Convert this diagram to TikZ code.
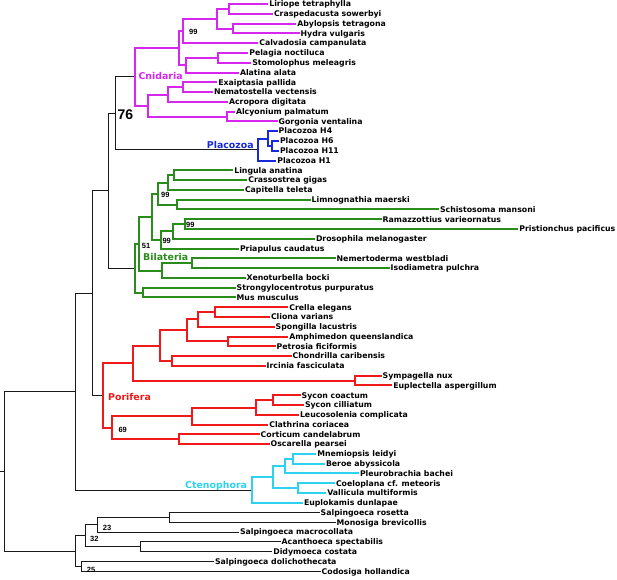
\documentclass[tikz,border=0pt]{standalone}
\usepackage{fontspec}
\setmainfont{DejaVu Sans}
\newfontfamily\helv{Liberation Sans}
\usepackage{tikz}

\definecolor{cnicol}{RGB}{214,38,240}
\definecolor{placol}{RGB}{22,42,220}
\definecolor{bilcol}{RGB}{42,140,26}
\definecolor{porcol}{RGB}{240,26,26}
\definecolor{ctecol}{RGB}{44,210,240}
\definecolor{blkcol}{RGB}{25,25,25}

\tikzset{
  leaf/.style={anchor=west, inner xsep=0.8pt, inner ysep=0pt, text height=5.7pt, text depth=0pt,
    font=\bfseries\fontsize{7.8}{9}\selectfont},
  clade/.style={anchor=west, inner sep=0pt, text height=6.9pt, text depth=0pt,
    font=\bfseries\fontsize{9.4}{11}\selectfont},
  boot/.style={anchor=west, inner sep=0pt, font=\helv\bfseries\fontsize{7.5}{9}\selectfont},
  blkbr/.style={line width=1pt, draw=blkcol},
  cnibr/.style={line width=2pt, draw=cnicol},
  plabr/.style={line width=2pt, draw=placol},
  bilbr/.style={line width=2pt, draw=bilcol},
  porbr/.style={line width=2pt, draw=porcol},
  ctebr/.style={line width=2pt, draw=ctecol}
}

\begin{document}
\begin{tikzpicture}[x=1pt,y=-1pt]
    \useasboundingbox (0,0) rectangle (617,579);

    % tips
    \node[leaf] (l0) at (268.3,4.0) {Liriope tetraphylla};
    \node[leaf] (l1) at (273.0,13.8) {Craspedacusta sowerbyi};
    \node[leaf] (l2) at (296.3,23.6) {Abylopsis tetragona};
    \node[leaf] (l3) at (299.7,33.3) {Hydra vulgaris};
    \node[leaf] (l4) at (258.3,43.1) {Calvadosia campanulata};
    \node[leaf] (l5) at (248.3,52.9) {Pelagia noctiluca};
    \node[leaf] (l6) at (251.3,62.7) {Stomolophus meleagris};
    \node[leaf] (l7) at (239.0,72.5) {Alatina alata};
    \node[leaf] (l8) at (217.3,82.2) {Exaiptasia pallida};
    \node[leaf] (l9) at (213.0,92.0) {Nematostella vectensis};
    \node[leaf] (l10) at (228.0,101.8) {Acropora digitata};
    \node[leaf] (l11) at (235.0,111.6) {Alcyonium palmatum};
    \node[leaf] (l12) at (277.7,121.4) {Gorgonia ventalina};
    \node[leaf] (l13) at (277.7,131.1) {Placozoa H4};
    \node[leaf] (l14) at (279.0,140.9) {Placozoa H6};
    \node[leaf] (l15) at (279.0,150.7) {Placozoa H11};
    \node[leaf] (l16) at (276.3,160.5) {Placozoa H1};
    \node[leaf] (l17) at (233.3,170.3) {Lingula anatina};
    \node[leaf] (l18) at (247.3,180.0) {Crassostrea gigas};
    \node[leaf] (l19) at (244.0,189.8) {Capitella teleta};
    \node[leaf] (l20) at (310.7,199.6) {Limnognathia maerski};
    \node[leaf] (l21) at (439.0,209.4) {Schistosoma mansoni};
    \node[leaf] (l22) at (381.7,219.2) {Ramazzottius varieornatus};
    \node[leaf] (l23) at (518.3,228.9) {Pristionchus pacificus};
    \node[leaf] (l24) at (315.0,238.7) {Drosophila melanogaster};
    \node[leaf] (l25) at (239.0,248.5) {Priapulus caudatus};
    \node[leaf] (l26) at (335.7,258.3) {Nemertoderma westbladi};
    \node[leaf] (l27) at (389.7,268.1) {Isodiametra pulchra};
    \node[leaf] (l28) at (245.7,277.8) {Xenoturbella bocki};
    \node[leaf] (l29) at (235.7,287.6) {Strongylocentrotus purpuratus};
    \node[leaf] (l30) at (235.7,297.4) {Mus musculus};
    \node[leaf] (l31) at (288.3,307.2) {Crella elegans};
    \node[leaf] (l32) at (270.0,317.0) {Cliona varians};
    \node[leaf] (l33) at (274.7,326.7) {Spongilla lacustris};
    \node[leaf] (l34) at (288.3,336.5) {Amphimedon queenslandica};
    \node[leaf] (l35) at (275.7,346.3) {Petrosia ficiformis};
    \node[leaf] (l36) at (291.7,356.1) {Chondrilla caribensis};
    \node[leaf] (l37) at (265.7,365.9) {Ircinia fasciculata};
    \node[leaf] (l38) at (381.7,375.6) {Sympagella nux};
    \node[leaf] (l39) at (392.3,385.4) {Euplectella aspergillum};
    \node[leaf] (l40) at (300.7,395.2) {Sycon coactum};
    \node[leaf] (l41) at (304.0,405.0) {Sycon cilliatum};
    \node[leaf] (l42) at (299.0,414.8) {Leucosolenia complicata};
    \node[leaf] (l43) at (268.3,424.5) {Clathrina coriacea};
    \node[leaf] (l44) at (259.7,434.3) {Corticum candelabrum};
    \node[leaf] (l45) at (269.7,444.1) {Oscarella pearsei};
    \node[leaf] (l46) at (316.3,453.9) {Mnemiopsis leidyi};
    \node[leaf] (l47) at (325.0,463.7) {Beroe abyssicola};
    \node[leaf] (l48) at (359.0,473.4) {Pleurobrachia bachei};
    \node[leaf] (l49) at (335.0,483.2) {Coeloplana cf. meteoris};
    \node[leaf] (l50) at (326.3,493.0) {Vallicula multiformis};
    \node[leaf] (l51) at (303.0,502.8) {Euplokamis dunlapae};
    \node[leaf] (l52) at (319.7,512.6) {Salpingoeca rosetta};
    \node[leaf] (l53) at (335.7,522.3) {Monosiga brevicollis};
    \node[leaf] (l54) at (239.0,532.1) {Salpingoeca macrocollata};
    \node[leaf] (l55) at (280.7,541.9) {Acanthoeca spectabilis};
    \node[leaf] (l56) at (272.3,551.7) {Didymoeca costata};
    \node[leaf] (l57) at (214.0,561.5) {Salpingoeca dolichothecata};
    \node[leaf] (l58) at (320.7,571.2) {Codosiga hollandica};

    % inner nodes
    \coordinate (lc) at (229.3,8.9);
    \coordinate (ah) at (233.3,28.5);
    \coordinate (hyd) at (216.7,18.7);
    \coordinate (med99) at (182.7,30.9);
    \coordinate (ps) at (218.3,57.8);
    \coordinate (psa) at (185.7,65.2);
    \coordinate (med) at (179.0,48.0);
    \coordinate (en) at (183.3,87.1);
    \coordinate (hexa) at (168.3,94.5);
    \coordinate (octo) at (226.7,116.5);
    \coordinate (anth) at (148.3,105.5);
    \coordinate (cni) at (135.0,76.7);
    \coordinate (h611) at (271.7,145.8);
    \coordinate (h4) at (268.3,138.5);
    \coordinate (pla) at (258.3,149.5);
    \coordinate (n76) at (115.0,113.1);
    \coordinate (lcr) at (174.0,175.2);
    \coordinate (lcc) at (168.3,182.5);
    \coordinate (ls) at (176.7,204.5);
    \coordinate (spi) at (158.3,193.5);
    \coordinate (rp) at (185.0,224.1);
    \coordinate (rpd) at (173.3,231.4);
    \coordinate (ecd) at (160.7,239.9);
    \coordinate (pro) at (152.3,216.7);
    \coordinate (ni) at (191.7,263.2);
    \coordinate (xen) at (161.7,270.5);
    \coordinate (b1) at (139.3,243.6);
    \coordinate (deu) at (142.7,292.5);
    \coordinate (bil) at (135.0,268.1);
    \coordinate (n108) at (108.7,190.6);
    \coordinate (cc) at (215.0,312.1);
    \coordinate (ccs) at (197.7,319.4);
    \coordinate (ap) at (228.3,341.4);
    \coordinate (het) at (187.3,330.4);
    \coordinate (ker) at (171.7,361.0);
    \coordinate (dem) at (160.0,345.7);
    \coordinate (hex) at (355.0,380.5);
    \coordinate (dh) at (132.7,363.1);
    \coordinate (syc) at (273.3,400.1);
    \coordinate (sycl) at (256.3,407.5);
    \coordinate (cal) at (192.3,416.0);
    \coordinate (hom) at (179.0,439.2);
    \coordinate (ch69) at (112.3,427.6);
    \coordinate (por) at (103.3,395.4);
    \coordinate (n92) at (92.7,293.0);
    \coordinate (mb) at (292.7,458.8);
    \coordinate (mbp) at (285.0,466.1);
    \coordinate (cv) at (298.3,488.1);
    \coordinate (mbpcv) at (273.3,477.1);
    \coordinate (cte) at (251.7,490.0);
    \coordinate (n75) at (75.0,391.5);
    \coordinate (sm) at (169.3,517.5);
    \coordinate (c23) at (97.3,524.8);
    \coordinate (ad) at (140.0,546.8);
    \coordinate (c32) at (85.0,535.8);
    \coordinate (c25) at (81.7,566.4);
    \coordinate (cho) at (75.0,551.1);
    \coordinate (root) at (4.7,471.3);
    \coordinate (stub) at (0,471.3);

    % backbone and choanoflagellates
    \draw[blkbr] (stub) -- (root) (root) |- (n75) (root) |- (cho)
        (n75) |- (n92) (n75) |- (cte) (n92) |- (n108) (n92) |- (por)
        (n108) |- (n76) (n108) |- (bil) (n76) |- (cni) (n76) |- (pla)
        (cho) |- (c32) (cho) |- (c25) (c32) |- (c23) (c32) |- (ad)
        (c23) |- (sm) (c23) |- (l54.west) (sm) |- (l52.west) (sm) |- (l53.west)
        (ad) |- (l55.west) (ad) |- (l56.west) (c25) |- (l57.west) (c25) |- (l58.west);

    % Cnidaria
    \draw[cnibr] (cni) |- (med) (cni) |- (anth) (med) |- (med99) (med) |- (psa)
        (med99) |- (hyd) (med99) |- (l4.west) (hyd) |- (lc) (hyd) |- (ah)
        (lc) |- (l0.west) (lc) |- (l1.west) (ah) |- (l2.west) (ah) |- (l3.west)
        (psa) |- (ps) (psa) |- (l7.west) (ps) |- (l5.west) (ps) |- (l6.west)
        (anth) |- (hexa) (anth) |- (octo) (hexa) |- (en) (hexa) |- (l10.west)
        (en) |- (l8.west) (en) |- (l9.west) (octo) |- (l11.west) (octo) |- (l12.west);

    % Placozoa
    \draw[plabr] (pla) |- (h4) (pla) |- (l16.west) (h4) |- (l13.west) (h4) |- (h611)
        (h611) |- (l14.west) (h611) |- (l15.west);

    % Bilateria
    \draw[bilbr] (bil) |- (b1) (bil) |- (deu) (b1) |- (pro) (b1) |- (xen)
        (pro) |- (spi) (pro) |- (ecd) (spi) |- (lcc) (spi) |- (ls)
        (lcc) |- (lcr) (lcc) |- (l19.west) (lcr) |- (l17.west) (lcr) |- (l18.west)
        (ls) |- (l20.west) (ls) |- (l21.west) (ecd) |- (rpd) (ecd) |- (l25.west)
        (rpd) |- (rp) (rpd) |- (l24.west) (rp) |- (l22.west) (rp) |- (l23.west)
        (xen) |- (ni) (xen) |- (l28.west) (ni) |- (l26.west) (ni) |- (l27.west)
        (deu) |- (l29.west) (deu) |- (l30.west);

    % Porifera
    \draw[porbr] (por) |- (dh) (por) |- (ch69) (dh) |- (dem) (dh) |- (hex)
        (dem) |- (het) (dem) |- (ker) (het) |- (ccs) (het) |- (ap)
        (ccs) |- (cc) (ccs) |- (l33.west) (cc) |- (l31.west) (cc) |- (l32.west)
        (ap) |- (l34.west) (ap) |- (l35.west) (ker) |- (l36.west) (ker) |- (l37.west)
        (hex) |- (l38.west) (hex) |- (l39.west) (ch69) |- (cal) (ch69) |- (hom)
        (cal) |- (sycl) (cal) |- (l43.west) (sycl) |- (syc) (sycl) |- (l42.west)
        (syc) |- (l40.west) (syc) |- (l41.west) (hom) |- (l44.west) (hom) |- (l45.west);

    % Ctenophora
    \draw[ctebr] (cte) |- (mbpcv) (cte) |- (l51.west) (mbpcv) |- (mbp) (mbpcv) |- (cv)
        (mbp) |- (mb) (mbp) |- (l48.west) (mb) |- (l46.west) (mb) |- (l47.west)
        (cv) |- (l49.west) (cv) |- (l50.west);

    % clade names
    \node[clade, text=cnicol] (tcni) at (138.3,76.0) {Cnidaria};
    \node[clade, text=placol] (tpla) at (206.7,145.2) {Placozoa};
    \node[clade, text=bilcol] (tbil) at (143.0,256.7) {Bilateria};
    \node[clade, text=porcol] (tpor) at (108.0,397.0) {Porifera};
    \node[clade, text=ctecol] (tcte) at (185.0,485.2) {Ctenophora};

    % support values
    \node[anchor=west, inner sep=0pt, font=\helv\bfseries\fontsize{14}{16}\selectfont] (s76) at (117.3,115.0) {76};
    \node[boot] (s99a) at (189.0,31.7) {99};
    \node[boot] (s99b) at (161.0,195.0) {99};
    \node[boot] (s99c) at (186.0,225.0) {99};
    \node[boot] (s99d) at (162.3,240.7) {99};
    \node[boot] (s51) at (141.7,245.7) {51};
    \node[boot] (s69) at (118.3,430.0) {69};
    \node[boot] (s23) at (102.7,527.7) {23};
    \node[boot] (s32) at (90.0,539.0) {32};
    \node[boot] (s25) at (86.7,570.0) {25};

\end{tikzpicture}
\end{document}
